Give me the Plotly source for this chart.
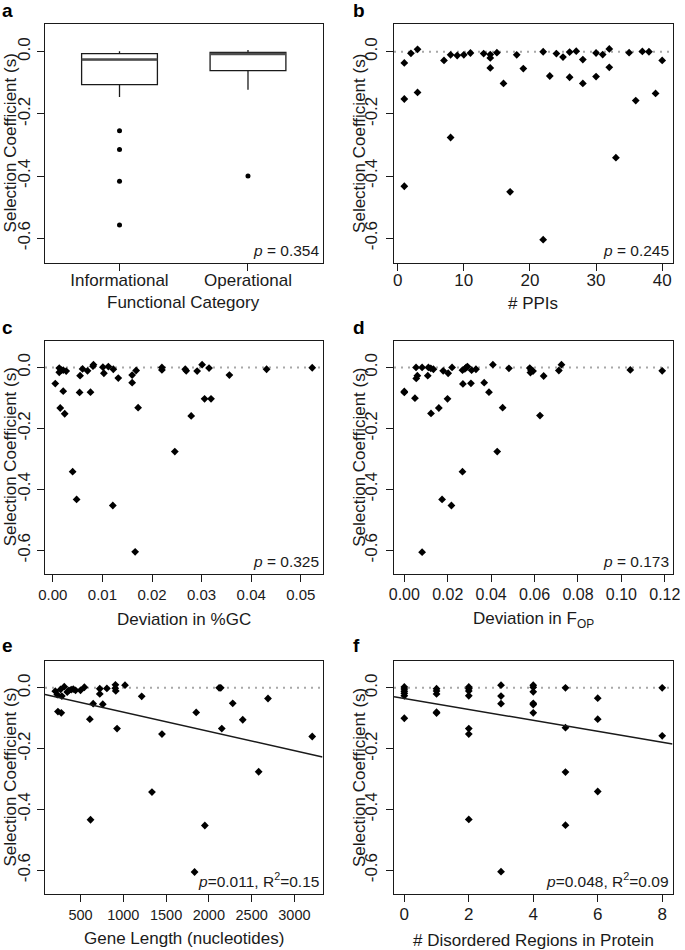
import plotly.graph_objects as go

W, H = 685, 950
FONT = "Liberation Sans, Arial, Helvetica, sans-serif"
INK = "#1a1a1a"

# ---------------- data ----------------
# (a) functional category box plot (summary statistics)
category_labels = ["Informational", "Operational"]
category_pos = [1, 2]
box_q1 = [-0.106, -0.061]
box_median = [-0.025, -0.007]
box_q3 = [-0.006, -0.002]
box_lower = [-0.146, -0.122]
box_upper = [0.002, 0.006]
outlier_cat = [1, 1, 1, 1, 2]
outlier_s = [-0.254, -0.315, -0.417, -0.558, -0.400]
p_a = "<i>p</i> = 0.354"

# (b) number of protein-protein interactions
ppi_n = [1, 1, 1, 2, 3, 3, 7, 8, 8, 9, 10, 11, 13, 14, 14, 14, 15, 16, 17, 18,
         19, 22, 22, 23, 24, 25, 26, 26, 27, 28, 28, 30, 30, 31, 32, 32, 33, 35,
         36, 37, 38, 39, 40]
ppi_s = [-0.036, -0.152, -0.433, -0.005, 0.008, -0.131, -0.028, -0.010, -0.276,
         -0.012, -0.010, -0.004, -0.006, -0.009, -0.020, -0.052, -0.003, -0.102,
         -0.451, -0.010, -0.054, 0.0, -0.605, -0.078, -0.006, -0.017, -0.001,
         -0.082, 0.002, -0.025, -0.102, -0.004, -0.080, -0.009, 0.009, -0.050,
         -0.341, -0.003, -0.157, 0.001, 0.0, -0.134, -0.028]
p_b = "<i>p</i> = 0.245"

# (c) deviation in %GC
gc_dev = [0.0005, 0.0013, 0.0013, 0.0017, 0.0021, 0.0027, 0.0015, 0.0021, 0.0024,
          0.0040, 0.0048, 0.0055, 0.0054, 0.0060, 0.0070, 0.0076, 0.0081, 0.0082,
          0.0101, 0.0103, 0.0112, 0.0121, 0.0122, 0.0132, 0.0160, 0.0160, 0.0166,
          0.0168, 0.0172, 0.0220, 0.0220, 0.0246, 0.0267, 0.0269, 0.0279, 0.0291,
          0.0301, 0.0306, 0.0315, 0.0319, 0.0356, 0.0431, 0.0523]
gc_s = [-0.053, -0.002, -0.016, -0.009, -0.009, -0.012, -0.133, -0.078, -0.152,
        -0.342, -0.433, -0.027, -0.082, -0.005, -0.011, -0.081, 0.004, 0.009,
        0.001, -0.019, 0.003, -0.453, -0.006, -0.035, -0.025, -0.050, -0.605,
        -0.010, -0.132, 0.0, -0.008, -0.276, -0.006, -0.011, -0.159, -0.012,
        0.009, -0.103, -0.002, -0.103, -0.025, -0.006, -0.001]
p_c = "<i>p</i> = 0.325"

# (d) deviation in F_OP
fop_dev = [0.0, 0.0, 0.0049, 0.0054, 0.0055, 0.0060, 0.0082, 0.0082, 0.0108, 0.0111,
           0.0122, 0.0123, 0.0134, 0.0159, 0.0174, 0.0179, 0.0199, 0.0202, 0.0217,
           0.0220, 0.0268, 0.0268, 0.0270, 0.0279, 0.0285, 0.0291, 0.0307, 0.0310,
           0.0330, 0.0368, 0.0390, 0.0408, 0.0428, 0.0453, 0.0482, 0.0578, 0.0581,
           0.0584, 0.0593, 0.0625, 0.0642, 0.0712, 0.0724, 0.1041, 0.1188]
fop_s = [-0.079, -0.082, -0.101, 0.0, -0.036, -0.027, 0.0, -0.606, -0.027, 0.0,
         -0.003, -0.151, -0.006, -0.133, -0.433, -0.011, -0.103, -0.019, -0.453, 0.0,
         -0.342, -0.009, -0.054, -0.005, 0.0, 0.003, -0.052, -0.009, -0.006, -0.050,
         -0.081, 0.009, -0.276, -0.132, -0.003, -0.002, -0.017, -0.009, -0.012,
         -0.158, -0.028, -0.010, 0.009, -0.008, -0.011]
p_d = "<i>p</i> = 0.173"

# (e) gene length
gene_len = [205, 228, 236, 267, 275, 282, 310, 345, 364, 391, 415, 442, 500, 545,
            609, 617, 648, 725, 725, 760, 808, 906, 908, 912, 927, 1020, 1215, 1335,
            1452, 1833, 1852, 1953, 2120, 2139, 2151, 2279, 2396, 2582, 2691, 3208]
gene_s = [-0.011, -0.022, -0.078, -0.005, -0.082, -0.027, 0.004, -0.014, -0.008,
          -0.006, -0.004, -0.008, -0.008, 0.002, -0.103, -0.434, -0.052, -0.003,
          -0.020, -0.054, -0.002, -0.001, 0.010, -0.010, -0.134, 0.009, -0.028,
          -0.343, -0.152, -0.606, -0.081, -0.453, 0.0, 0.0, -0.134, -0.051, -0.105,
          -0.276, -0.035, -0.160]
fit_e = (-0.0163, -6.35e-5)   # intercept, slope
p_e = "<i>p</i>=0.011, R<sup>2</sup>=0.15"

# (f) disordered regions
dis_n = [0, 0, 0, 0, 0, 0, 1, 1, 1, 1, 1, 2, 2, 2, 2, 2, 2, 2, 3, 3, 3, 3,
         4, 4, 4, 4, 4, 4, 5, 5, 5, 5, 6, 6, 6, 8, 8]
dis_s = [0.003, -0.004, -0.011, -0.018, -0.026, -0.100, -0.003, -0.010, -0.020,
         -0.080, -0.083, 0.003, -0.003, -0.010, -0.026, -0.134, -0.152, -0.433,
         0.009, -0.027, -0.052, -0.605, 0.009, 0.002, -0.013, -0.051, -0.055,
         -0.082, 0.0, -0.131, -0.277, -0.452, -0.034, -0.103, -0.341, 0.0, -0.158]
fit_f = (-0.035, -0.018)
p_f = "<i>p</i>=0.048, R<sup>2</sup>=0.09"

y_ticks = [0.0, -0.2, -0.4, -0.6]
y_tick_labels = ["0.0", "-0.2", "-0.4", "-0.6"]
y_lim = (-0.65, 0.06)
null_s = 0.0

x_titles = ["Functional Category", "# PPIs", "Deviation in %GC",
            "Deviation in F<sub>OP</sub>", "Gene Length (nucleotides)",
            "# Disordered Regions in Protein"]
y_title = "Selection Coefficient (s)"
panel_letters = ["a", "b", "c", "d", "e", "f"]


# ---------------- helpers ----------------
def r_range(lo, hi):
    d = (hi - lo) * 0.04
    return [lo - d, hi + d]


COLS = [(45.0, 322.5), (394.0, 672.5)]
ROWS = [(24.3, 262.5), (340.5, 574.2), (661.0, 894.0)]


def dom_x(c):
    return [COLS[c][0] / W, COLS[c][1] / W]


def dom_y(r):
    return [1 - ROWS[r][1] / H, 1 - ROWS[r][0] / H]


fig = go.Figure()
yr = r_range(*y_lim)

x_specs = [
    dict(range=r_range(0.5, 2.5), tickvals=category_pos, ticktext=category_labels,
         size=17, standoff=-5),
    dict(range=r_range(min(ppi_n), max(ppi_n)), tickvals=[0, 10, 20, 30, 40],
         size=17, standoff=-5),
    dict(range=r_range(min(gc_dev), max(gc_dev)),
         tickvals=[0.0, 0.01, 0.02, 0.03, 0.04, 0.05], fmt=".2f", size=15, standoff=0),
    dict(range=r_range(min(fop_dev), max(fop_dev)),
         tickvals=[0.0, 0.02, 0.04, 0.06, 0.08, 0.10, 0.12], fmt=".2f", size=16,
         standoff=-1),
    dict(range=r_range(min(gene_len), max(gene_len)),
         tickvals=[500, 1000, 1500, 2000, 2500, 3000], fmt="d", size=14.5, standoff=1),
    dict(range=r_range(min(dis_n), max(dis_n)), tickvals=[0, 2, 4, 6, 8],
         size=17, standoff=-2),
]

layout = dict(width=W, height=H, margin=dict(l=0, r=0, t=0, b=0),
              paper_bgcolor="white", plot_bgcolor="white", showlegend=False,
              font=dict(family=FONT, color=INK))
for i, spec in enumerate(x_specs):
    r, c = divmod(i, 2)
    k = "" if i == 0 else str(i + 1)
    xa = dict(domain=dom_x(c), anchor="y" + k, range=spec["range"],
              tickvals=spec["tickvals"], showline=True, mirror=True,
              linecolor=INK, linewidth=1, ticks="outside", ticklen=7,
              tickwidth=1, tickcolor=INK, showgrid=False, zeroline=False,
              automargin=False, ticklabelstandoff=spec["standoff"],
              tickfont=dict(size=spec["size"], family=FONT, color=INK))
    if "ticktext" in spec:
        xa["ticktext"] = spec["ticktext"]
    if "fmt" in spec:
        xa["tickformat"] = spec["fmt"]
    ya = dict(domain=dom_y(r), anchor="x" + k, range=yr, tickvals=y_ticks,
              ticktext=y_tick_labels, tickangle=-90, showline=True, mirror=True,
              linecolor=INK, linewidth=1, ticks="outside", ticklen=7,
              tickwidth=1, tickcolor=INK, showgrid=False, zeroline=False,
              automargin=False, ticklabelstandoff=0 if c == 0 else 2,
              tickfont=dict(size=17, family=FONT, color=INK))
    layout["xaxis" + k] = xa
    layout["yaxis" + k] = ya
fig.update_layout(**layout)

# ---- panel a: box plot ----
BOX_W = 0.59
fig.add_trace(go.Box(x=category_pos, q1=box_q1, median=box_median, q3=box_q3,
                     lowerfence=box_lower, upperfence=box_upper, width=BOX_W,
                     whiskerwidth=0, fillcolor="white", boxpoints=False,
                     line=dict(color=INK, width=1.3), xaxis="x", yaxis="y",
                     hoverinfo="skip"))
for pos, med in zip(category_pos, box_median):
    fig.add_trace(go.Scatter(x=[pos - BOX_W / 2, pos + BOX_W / 2], y=[med, med],
                             mode="lines", line=dict(color="#4d4d4d", width=2.4),
                             xaxis="x", yaxis="y", hoverinfo="skip"))
fig.add_trace(go.Scatter(x=outlier_cat, y=outlier_s, mode="markers",
                         marker=dict(symbol="circle", size=5, color="black"),
                         xaxis="x", yaxis="y"))

# ---- scatter panels ----
scatter_sets = [(ppi_n, ppi_s), (gc_dev, gc_s), (fop_dev, fop_s),
                (gene_len, gene_s), (dis_n, dis_s)]
for j, (xs, ys) in enumerate(scatter_sets):
    k = str(j + 2)
    # dotted neutral line s = 0
    fig.add_shape(type="line", xref="x" + k + " domain", yref="y" + k,
                  x0=0, x1=1, y0=null_s, y1=null_s, layer="below",
                  line=dict(color="#a8a8a8", width=2, dash="2px,5px"))
    fig.add_trace(go.Scatter(x=xs, y=ys, mode="markers",
                             marker=dict(symbol="diamond", size=6, color="black",
                                         line=dict(width=0)),
                             xaxis="x" + k, yaxis="y" + k, cliponaxis=True))

# regression lines (abline across full panel)
for k, fit, spec in [("5", fit_e, x_specs[4]), ("6", fit_f, x_specs[5])]:
    x0, x1 = spec["range"]
    fig.add_trace(go.Scatter(x=[x0, x1], y=[fit[0] + fit[1] * x0, fit[0] + fit[1] * x1],
                             mode="lines", line=dict(color=INK, width=1.5),
                             xaxis="x" + k, yaxis="y" + k, hoverinfo="skip"))

# ---- annotations ----
ann = []
p_texts = [p_a, p_b, p_c, p_d, p_e, p_f]
title_y = [302.7, 303.3, 619.5, 619.5, 938.5, 940.5]
label_y = [10.5, 10.5, 327.0, 327.0, 645.0, 645.0]
label_x = [0.0, 351.0]
ytitle_x = [10.0, 359.5]
for i in range(6):
    r, c = divmod(i, 2)
    k = "" if i == 0 else str(i + 1)
    ann.append(dict(text=p_texts[i], xref="x" + k + " domain", yref="y" + k + " domain",
                    x=1, y=0, xanchor="right", yanchor="bottom", xshift=-2, yshift=2,
                    showarrow=False, font=dict(size=15.5, family=FONT, color=INK)))
    ann.append(dict(text=x_titles[i], xref="paper", yref="paper",
                    x=(COLS[c][0] + COLS[c][1]) / 2 / W, y=1 - title_y[i] / H,
                    xanchor="center", yanchor="middle", showarrow=False,
                    font=dict(size=17, family=FONT, color=INK)))
    ann.append(dict(text=y_title, xref="paper", yref="paper",
                    x=ytitle_x[c] / W, y=1 - (ROWS[r][0] + ROWS[r][1]) / 2 / H,
                    xanchor="center", yanchor="middle", textangle=-90,
                    showarrow=False, font=dict(size=17, family=FONT, color=INK)))
    ann.append(dict(text="<b>" + panel_letters[i] + "</b>", xref="paper", yref="paper",
                    x=label_x[c] / W, y=1 - label_y[i] / H, xanchor="left",
                    yanchor="middle", showarrow=False,
                    font=dict(size=19, family=FONT, color="black")))
fig.update_layout(annotations=ann)

fig.write_html("out.html", config={"displayModeBar": False},
               post_script="document.body.style.margin='0px';"
                           "document.body.style.overflow='hidden';")
